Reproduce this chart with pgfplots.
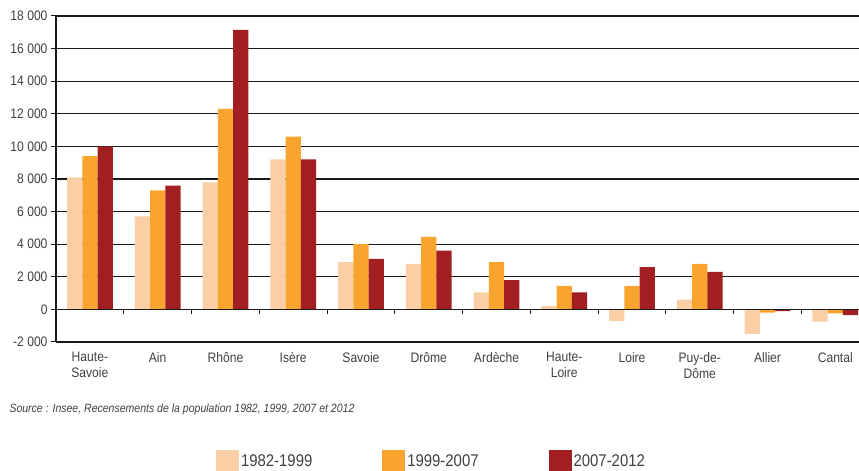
\documentclass[border=0pt]{standalone}
\usepackage{fontspec}
\setmainfont[FakeStretch=0.88]{Liberation Sans}
\usepackage{pgfplots}
\pgfplotsset{compat=1.18}
\definecolor{cA}{HTML}{FBCFA5}
\definecolor{cB}{HTML}{F9A42E}
\definecolor{cC}{HTML}{A11F20}
\definecolor{txt}{HTML}{404040}
\begin{document}
\begin{tikzpicture}
\path[use as bounding box] (0,0) rectangle (859bp,471bp);
\begin{axis}[
  at={(56bp,129bp)}, anchor=south west,
  scale only axis, width=803bp, height=326bp,
  xmin=-0.5, xmax=11.35, ymin=-2000, ymax=18000,
  enlargelimits=false, scaled y ticks=false,
  axis lines*=left,
  axis line style={line width=1.2bp, color=black!90},
  ymajorgrids, grid style={line width=1.2bp, color=black!90},
  ytick={-2000,0,2000,4000,6000,8000,10000,12000,14000,16000,18000},
  yticklabels={-2 000,0,2 000,4 000,6 000,8 000,10 000,12 000,14 000,16 000,18 000},
  xtick={0,...,11},
  xticklabels={{Haute-\\Savoie},Ain,Rhône,Isère,Savoie,Drôme,Ardèche,{Haute-\\Loire},Loire,{Puy-de-\\Dôme},Allier,Cantal},
  xticklabel style={align=center, font=\fontsize{13.8}{15.8}\selectfont, text=txt, yshift=-2bp},
  yticklabel style={font=\fontsize{13.8}{15}\selectfont, text=txt},
  x tick style={draw=none},
  y tick style={line width=1bp, color=black!90},
  tick align=outside, major tick length=5bp,
  legend style={at={(0.4676,-0.365)}, anchor=center, draw=none, fill=none,
    legend columns=3, font=\fontsize{17}{20}\selectfont, text=txt,
    /tikz/every even column/.append style={column sep=68bp}},
  legend image code/.code={\fill[#1, draw=none] (0bp,-10.5bp) rectangle (23bp,10.5bp);},
]
\addplot[ybar, bar width=0.225, bar shift=-0.225, fill=cA, draw=none] coordinates {
 (0,8100) (1,5700) (2,7800) (3,9200) (4,2900) (5,2800) (6,1050) (7,200) (8,-700) (9,600) (10,-1500) (11,-750)};
\addlegendentry{1982-1999}
\addplot[ybar, bar width=0.225, bar shift=0, fill=cB, draw=none] coordinates {
 (0,9400) (1,7300) (2,12300) (3,10600) (4,4000) (5,4450) (6,2900) (7,1450) (8,1450) (9,2800) (10,-200) (11,-250)};
\addlegendentry{1999-2007}
\addplot[ybar, bar width=0.225, bar shift=0.225, fill=cC, draw=none] coordinates {
 (0,10000) (1,7600) (2,17150) (3,9200) (4,3100) (5,3600) (6,1800) (7,1050) (8,2600) (9,2300) (10,-100) (11,-350)};
\addlegendentry{2007-2012}
\draw[line width=1.2bp, color=black!90] (axis cs:-0.5,0) -- (axis cs:11.35,0);
\pgfplotsinvokeforeach{0.5,1.5,2.5,3.5,4.5,5.5,6.5,7.5,8.5,9.5,10.5}{
  \draw[line width=1bp, color=black!90] (axis cs:#1,0) -- ++(0bp,-4.5bp);
}
\end{axis}
\node[anchor=base west, font=\itshape\fontsize{12}{14}\selectfont, text=txt] at (6bp,58bp) {Source : Insee, Recensements de la population 1982, 1999, 2007 et 2012};
\end{tikzpicture}
\end{document}
